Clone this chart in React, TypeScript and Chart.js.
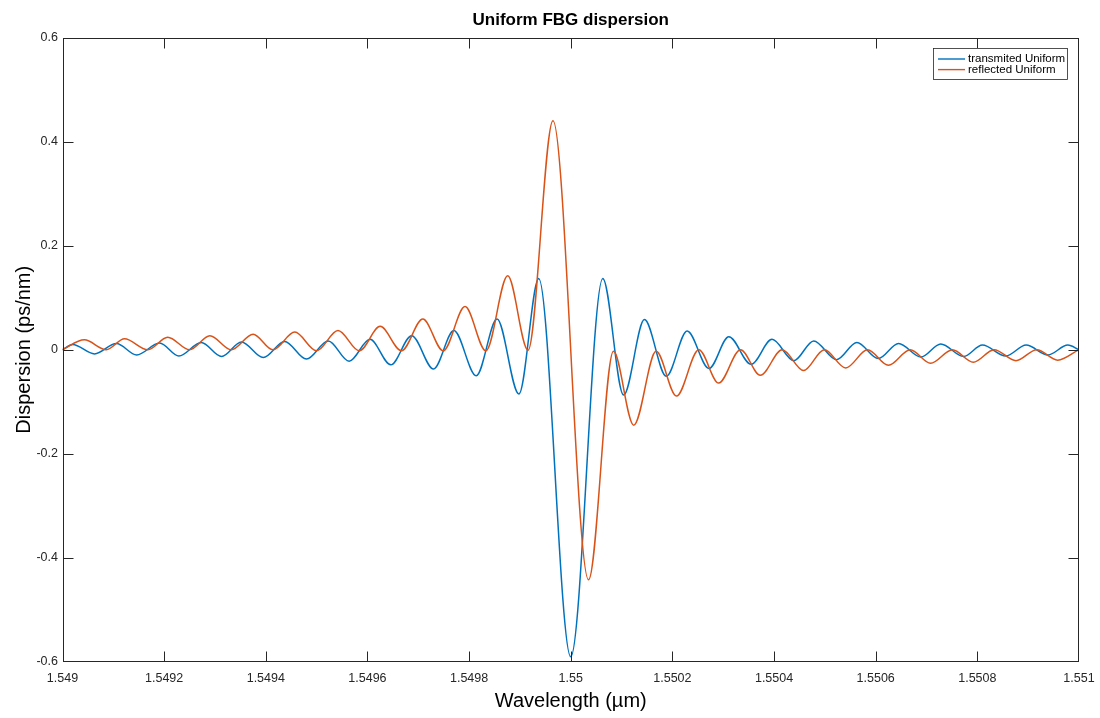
import React, { useEffect, useRef } from 'react';
import { Chart, registerables } from 'chart.js';

Chart.register(...registerables);

// Transmitted series: wavelength (µm) and dispersion (ps/nm), read at extrema
const transWavelength = [
  1.549, 1.54902, 1.549063, 1.549106, 1.549146, 1.549191, 1.549229, 1.549273, 1.549313,
  1.549352, 1.549395, 1.549437, 1.54948, 1.549523, 1.549564, 1.549605, 1.549646, 1.549687,
  1.54973, 1.54977, 1.549814, 1.549855, 1.549898, 1.549937, 1.55, 1.550063, 1.550104,
  1.550145, 1.550188, 1.550229, 1.550272, 1.550311, 1.550355, 1.550396, 1.550439, 1.550478,
  1.550523, 1.550563, 1.550605, 1.550645, 1.550689, 1.550728, 1.550773, 1.55081, 1.550856,
  1.550896, 1.550939, 1.550978, 1.551,
];
const transDispersion = [
  0, 0.01, -0.008, 0.012, -0.01, 0.013, -0.012, 0.014, -0.013,
  0.015, -0.015, 0.016, -0.018, 0.017, -0.022, 0.02, -0.029, 0.027,
  -0.037, 0.037, -0.05, 0.059, -0.085, 0.137, -0.59, 0.137, -0.087,
  0.058, -0.051, 0.036, -0.036, 0.025, -0.028, 0.02, -0.021, 0.017,
  -0.019, 0.014, -0.017, 0.012, -0.014, 0.011, -0.013, 0.009, -0.012,
  0.009, -0.01, 0.009, 0,
];

// Reflected series
const reflWavelength = [
  1.549, 1.549043, 1.549086, 1.549122, 1.549168, 1.549207, 1.54925, 1.54929, 1.549332,
  1.549375, 1.549414, 1.549457, 1.5495, 1.549542, 1.549584, 1.549625, 1.549667, 1.549709,
  1.549749, 1.549792, 1.549833, 1.549876, 1.549916, 1.549965, 1.550035, 1.550084, 1.550124,
  1.550168, 1.550208, 1.550252, 1.550291, 1.550334, 1.550373, 1.550416, 1.550458, 1.550499,
  1.550541, 1.550584, 1.550625, 1.550668, 1.550708, 1.550751, 1.550792, 1.550833, 1.550876,
  1.550917, 1.550958, 1.551,
];
const reflDispersion = [
  0, 0.019, 0, 0.021, 0, 0.024, 0, 0.027, 0,
  0.03, 0, 0.034, -0.002, 0.037, -0.002, 0.045, -0.002, 0.059,
  -0.002, 0.083, -0.002, 0.142, -0.001, 0.44, -0.442, -0.003, -0.145,
  -0.003, -0.089, 0, -0.064, 0, -0.049, 0, -0.04, 0,
  -0.035, 0, -0.03, 0, -0.026, 0, -0.024, 0, -0.021,
  0, -0.02, 0,
];

const seriesNames = ['transmited Uniform', 'reflected Uniform'];
const seriesColors = ['#0072BD', '#D95319'];

const xTickValues = [1.549, 1.5492, 1.5494, 1.5496, 1.5498, 1.55, 1.5502, 1.5504, 1.5506, 1.5508, 1.551];
const xTickLabels = ['1.549', '1.5492', '1.5494', '1.5496', '1.5498', '1.55', '1.5502', '1.5504', '1.5506', '1.5508', '1.551'];
const yTickValues = [-0.6, -0.4, -0.2, 0, 0.2, 0.4, 0.6];
const yTickLabels = ['-0.6', '-0.4', '-0.2', '0', '0.2', '0.4', '0.6'];

const FONT = "'Liberation Sans', Arial, Helvetica, sans-serif";
const AXIS_COLOR = '#262626';

const boxAndTicksPlugin = {
  id: 'boxAndTicks',
  afterDatasetsDraw(chart: any) {
    const { ctx, chartArea } = chart;
    const left = Math.round(chartArea.left) + 0.5;
    const right = Math.round(chartArea.right) - 0.5;
    const top = Math.round(chartArea.top) + 0.5;
    const bottom = Math.round(chartArea.bottom) - 0.5;
    const xs = chart.scales.x;
    const ys = chart.scales.y;
    const len = 10;
    ctx.save();
    ctx.strokeStyle = AXIS_COLOR;
    ctx.lineWidth = 1;
    ctx.beginPath();
    xs.ticks.forEach((t: any) => {
      const px = Math.min(right, Math.max(left, Math.round(xs.getPixelForValue(t.value)) + 0.5));
      ctx.moveTo(px, bottom);
      ctx.lineTo(px, bottom - len);
      ctx.moveTo(px, top);
      ctx.lineTo(px, top + len);
    });
    ys.ticks.forEach((t: any) => {
      const py = Math.min(bottom, Math.max(top, Math.round(ys.getPixelForValue(t.value)) + 0.5));
      ctx.moveTo(left, py);
      ctx.lineTo(left + len, py);
      ctx.moveTo(right, py);
      ctx.lineTo(right - len, py);
    });
    ctx.stroke();
    ctx.strokeRect(left, top, right - left, bottom - top);
    ctx.restore();
  },
};

const insideLegendPlugin = {
  id: 'insideLegend',
  afterDraw(chart: any) {
    const { ctx, chartArea } = chart;
    const boxRight = Math.round(chartArea.right) - 12;
    const boxTop = Math.round(chartArea.top) + 10;
    const boxW = 134;
    const boxH = 31;
    const boxLeft = boxRight - boxW;
    ctx.save();
    ctx.fillStyle = '#ffffff';
    ctx.fillRect(boxLeft, boxTop, boxW, boxH);
    ctx.strokeStyle = AXIS_COLOR;
    ctx.lineWidth = 0.8;
    ctx.strokeRect(boxLeft + 0.5, boxTop + 0.5, boxW, boxH);
    ctx.font = `11.5px ${FONT}`;
    ctx.textBaseline = 'middle';
    ctx.textAlign = 'left';
    chart.data.datasets.forEach((ds: any) => {
      const idx = ds.legendIndex;
      const y = boxTop + 11 + idx * 10.6;
      ctx.strokeStyle = ds.borderColor;
      ctx.lineWidth = 1.4;
      ctx.beginPath();
      ctx.moveTo(boxLeft + 5, y);
      ctx.lineTo(boxLeft + 32, y);
      ctx.stroke();
      ctx.fillStyle = '#000000';
      ctx.fillText(ds.label, boxLeft + 35, y);
    });
    ctx.restore();
  },
};

export default function App() {
  const canvasRef = useRef<HTMLCanvasElement | null>(null);

  useEffect(() => {
    if (!canvasRef.current) return;
    const transData = transWavelength.map((x, i) => ({ x, y: transDispersion[i] }));
    const reflData = reflWavelength.map((x, i) => ({ x, y: reflDispersion[i] }));
    const chart = new Chart(canvasRef.current, {
      type: 'line',
      data: {
        datasets: [
          {
            label: seriesNames[0],
            data: transData,
            borderColor: seriesColors[0],
            backgroundColor: seriesColors[0],
            borderWidth: 1.5,
            pointRadius: 0,
            fill: false,
            cubicInterpolationMode: 'monotone',
            order: 1,
            legendIndex: 0,
          } as any,
          {
            label: seriesNames[1],
            data: reflData,
            borderColor: seriesColors[1],
            backgroundColor: seriesColors[1],
            borderWidth: 1.5,
            pointRadius: 0,
            fill: false,
            cubicInterpolationMode: 'monotone',
            order: 0,
            legendIndex: 1,
          } as any,
        ],
      },
      options: {
        animation: false,
        responsive: false,
        devicePixelRatio: 1,
        layout: { padding: { left: 0, right: 21, top: 0, bottom: 0 } },
        plugins: {
          legend: { display: false },
          tooltip: { enabled: false },
          title: {
            display: true,
            text: 'Uniform FBG dispersion',
            color: '#000000',
            fullSize: false,
            font: { family: FONT, size: 17, weight: 'bold' },
            padding: { top: 10, bottom: 7.1 },
          },
        },
        scales: {
          x: {
            type: 'linear',
            min: 1.549,
            max: 1.551,
            grid: { display: false, drawTicks: false },
            border: { display: false },
            afterBuildTicks: (scale: any) => {
              scale.ticks = xTickValues.map((v) => ({ value: v }));
            },
            afterFit: (scale: any) => {
              scale.height = 56;
              scale.paddingLeft = 0;
              scale.paddingRight = 0;
            },
            ticks: {
              autoSkip: false,
              maxRotation: 0,
              padding: 9,
              color: AXIS_COLOR,
              font: { family: FONT, size: 12.5 },
              callback: (_v: any, i: number) => xTickLabels[i],
            },
            title: {
              display: true,
              text: 'Wavelength (µm)',
              color: '#000000',
              font: { family: FONT, size: 20 },
              padding: { top: 0, bottom: 5 },
            },
          },
          y: {
            type: 'linear',
            min: -0.6,
            max: 0.6,
            grid: { display: false, drawTicks: false },
            border: { display: false },
            afterBuildTicks: (scale: any) => {
              scale.ticks = yTickValues.map((v) => ({ value: v }));
            },
            afterFit: (scale: any) => {
              scale.width = 62.5;
              scale.paddingTop = 0;
              scale.paddingBottom = 0;
            },
            ticks: {
              autoSkip: false,
              padding: 4.5,
              color: AXIS_COLOR,
              font: { family: FONT, size: 12.5 },
              callback: (_v: any, i: number) => yTickLabels[i],
            },
            title: {
              display: true,
              text: 'Dispersion (ps/nm)',
              color: '#000000',
              font: { family: FONT, size: 20 },
              padding: { top: 12, bottom: 0 },
            },
          },
        },
      } as any,
      plugins: [boxAndTicksPlugin, insideLegendPlugin],
    });
    return () => chart.destroy();
  }, []);

  return (
    <div style={{ position: 'fixed', left: 0, top: 0, width: 1100, height: 718, background: '#ffffff' }}>
      <canvas ref={canvasRef} width={1100} height={718} style={{ display: 'block', width: 1100, height: 718 }} />
    </div>
  );
}
